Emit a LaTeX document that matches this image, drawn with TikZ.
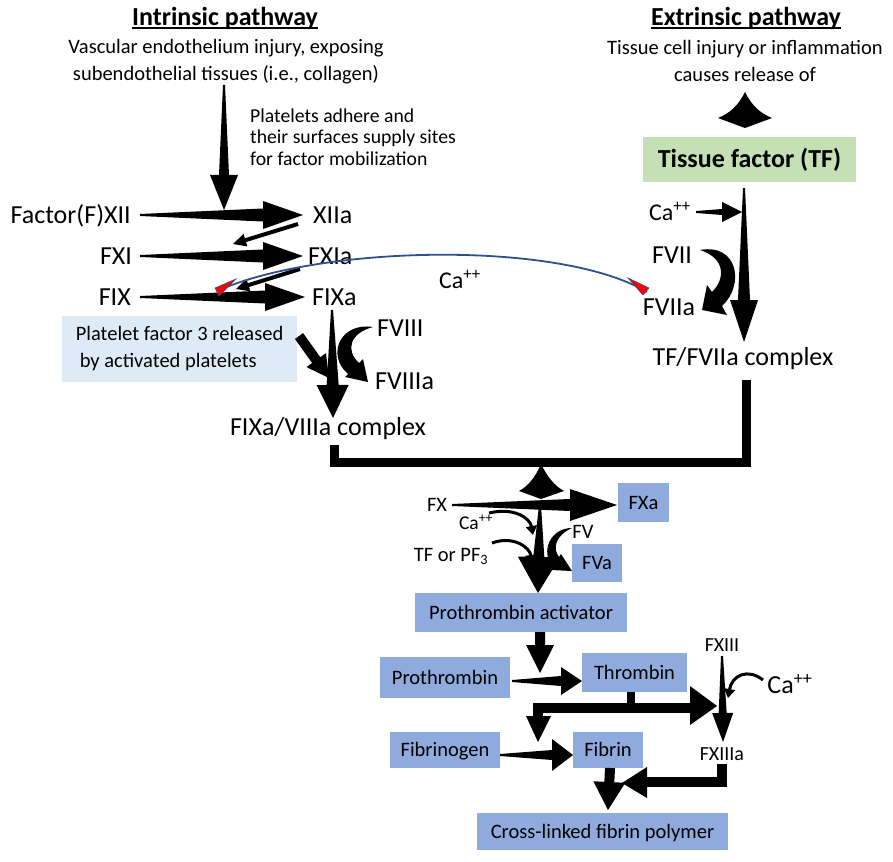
\documentclass[tikz,border=0pt]{standalone}
\usepackage{fontspec}
\setmainfont{Carlito}
\usetikzlibrary{calc,arrows.meta}
\definecolor{boxblue}{HTML}{8FAADC}
\definecolor{paleblue}{HTML}{DEEBF7}
\definecolor{palegreen}{HTML}{C5E0B4}
\definecolor{curveblue}{HTML}{2F4F8F}
% tapered block arrow: #1 from, #2 to, #3 start half-width, #4 shaft half-width at head, #5 head length, #6 head half-width
\newcommand\tarrow[6]{%
  \path (#1) coordinate (tA) (#2) coordinate (tB);
  \path ($(tB)!#5!(tA)$) coordinate (tC);
  \fill ($(tA)!#3!90:(tB)$) -- ($(tC)!#4!90:(tB)$) -- ($(tC)!#6!90:(tB)$) -- (tB)
     -- ($(tC)!#6!-90:(tB)$) -- ($(tC)!#4!-90:(tB)$) -- ($(tA)!#3!-90:(tB)$) -- cycle;}
\begin{document}
\begin{tikzpicture}[x=1pt,y=-1pt,
  lbl/.style={inner sep=0pt, font=\fontsize{26}{30}\selectfont, text height=16.7pt, text depth=0pt},
  midtxt/.style={inner sep=0pt, font=\fontsize{20.5}{27}\selectfont, text height=13.2pt, text depth=0pt},
  catxt/.style={inner sep=0pt, font=\fontsize{24}{28}\selectfont, text height=15.4pt, text depth=0pt},
  smalltxt/.style={inner sep=0pt, font=\fontsize{20}{24}\selectfont, text height=12.9pt, text depth=0pt},
  paratxt/.style={inner sep=0pt, font=\fontsize{20.5}{27}\selectfont, align=center},
  titletxt/.style={inner sep=0pt, font=\bfseries\fontsize{26}{30}\selectfont, text height=16.7pt, text depth=0pt},
  bbox/.style={fill=boxblue, inner sep=0pt, font=\fontsize{20.5}{27}\selectfont, text height=13.4pt, text depth=0pt},
  curvearr/.style={line width=3pt, -{Triangle[length=9pt,width=11pt]}},
  thickbar/.style={line width=9pt, line join=miter}]
\useasboundingbox (0,0) rectangle (893,861);

% ---------- titles and descriptions
\node[titletxt] (intr) at (225,17) {Intrinsic pathway};
\node[titletxt] (extr) at (746,17) {Extrinsic pathway};
\draw[line width=1.7pt] ([yshift=-2.5pt]intr.south west) -- ([yshift=-2.5pt]intr.south east);
\draw[line width=1.7pt] ([yshift=-2.5pt]extr.south west) -- ([yshift=-2.5pt]extr.south east);
\node[paratxt] (vasc) at (226,62) {Vascular endothelium injury, exposing\\subendothelial tissues (i.e., collagen)};
\node[paratxt] (tcell) at (745,61) {Tissue cell injury or inflammation\\causes release of};
\node[paratxt, align=left, anchor=west, font=\fontsize{19.7}{21.5}\selectfont] (plat) at (250,137) {Platelets adhere and\\their surfaces supply sites\\for factor mobilization};

% ---------- intrinsic labels
\node[lbl, anchor=east] (fxii) at (131,215) {Factor(F)XII};
\node[lbl, anchor=west] (xiia) at (313,215) {XIIa};
\node[lbl, anchor=east] (fxi) at (132,256) {FXI};
\node[lbl, anchor=west] (fxia) at (308,256) {FXIa};
\node[lbl, anchor=east] (fix) at (131,297) {FIX};
\node[lbl, anchor=west] (fixa) at (312,297) {FIXa};
\node[fill=paleblue, minimum width=235pt, minimum height=66pt, inner sep=0pt, align=left,
      font=\fontsize{20.5}{27}\selectfont] (pf3) at (179.5,349) {Platelet factor 3 released\\\hspace*{4pt}by activated platelets};
\node[lbl, anchor=west] (fviii) at (377,328) {FVIII};
\node[lbl, anchor=west] (fviiia) at (375,381) {FVIIIa};
\node[lbl] (fixcplx) at (328,427) {FIXa/VIIIa complex};
\node[catxt] (camid) at (460,281) {Ca\textsuperscript{++}};

% ---------- extrinsic labels
\node[titletxt, fill=palegreen, minimum width=213pt, minimum height=45pt] (tf) at (749.5,159.5) {Tissue factor (TF)};
\node[catxt] (caext) at (670,213) {Ca\textsuperscript{++}};
\node[lbl] (fvii) at (672,255) {FVII};
\node[lbl] (fviia) at (669,307) {FVIIa};
\node[lbl] (tfcplx) at (743,357) {TF/FVIIa complex};

% ---------- common pathway
\node[midtxt] (fx) at (437,505) {FX};
\node[bbox, minimum width=51pt, minimum height=39pt] (fxa) at (643.5,502.5) {FXa};
\node[midtxt, font=\fontsize{19.5}{22}\selectfont] (cabot) at (476,523) {Ca\textsuperscript{++}};
\node[midtxt] (tfpf) at (451,555) {TF or PF\textsubscript{3}};
\node[midtxt] (fv) at (583,532) {FV};
\node[bbox, minimum width=50pt, minimum height=38pt] (fva) at (597,563) {FVa};
\node[bbox, minimum width=212pt, minimum height=39pt] (pa) at (521,612.5) {Prothrombin activator};
\node[bbox, minimum width=130pt, minimum height=41pt] (prot) at (445,677.5) {Prothrombin};
\node[bbox, minimum width=105pt, minimum height=39pt] (thr) at (634.5,672.5) {Thrombin};
\node[smalltxt] (fxiii) at (722,645) {FXIII};
\node[lbl] (cabr) at (790,685) {Ca\textsuperscript{++}};
\node[smalltxt] (fxiiia) at (722,754.5) {FXIIIa};
\node[bbox, minimum width=110pt, minimum height=36pt] (fbg) at (445,750) {Fibrinogen};
\node[bbox, minimum width=70pt, minimum height=36pt] (fbn) at (608,750) {Fibrin};
\node[bbox, minimum width=251pt, minimum height=37pt] (poly) at (602.5,831.5) {Cross-linked fibrin polymer};

% ---------- arrow end points
\coordinate (a1s) at (140,215);  \coordinate (a1e) at (303,215);
\coordinate (a2s) at (140,256);  \coordinate (a2e) at (303,256);
\coordinate (a3s) at (140,297);  \coordinate (a3e) at (305,297);
\coordinate (b1s) at (298,224);  \coordinate (b1e) at (233,244);
\coordinate (b2s) at (300,269);  \coordinate (b2e) at (236,289);
\coordinate (d1s) at (224,85);   \coordinate (d1e) at (224,210);
\coordinate (d2s) at (332,310);  \coordinate (d2e) at (333,418);
\coordinate (pfs) at (299,336);  \coordinate (pfe) at (329,378);
\coordinate (ces) at (696,212);  \coordinate (cee) at (742,212);
\coordinate (tds) at (744,188);  \coordinate (tde) at (744,342);
\coordinate (fxs) at (452,505);  \coordinate (fxe) at (617,505);
\coordinate (pds) at (540,505);  \coordinate (pde) at (538,593);
\coordinate (tts) at (540,632);  \coordinate (tte) at (540,673);
\coordinate (pts) at (512,681);  \coordinate (pte) at (582,681);
\coordinate (x3s) at (722,656);  \coordinate (x3e) at (723,742);
\coordinate (fgs) at (500,755);  \coordinate (fge) at (573,755);
\coordinate (fns) at (610,768);  \coordinate (fne) at (608,810);

% ---------- intrinsic arrows
\tarrow{a1s}{a1e}{1pt}{6.5pt}{40pt}{14pt}
\tarrow{a2s}{a2e}{1pt}{6.5pt}{40pt}{14pt}
\tarrow{a3s}{a3e}{1pt}{6.5pt}{40pt}{14pt}
\tarrow{b1s}{b1e}{2pt}{2pt}{13pt}{6.5pt}
\tarrow{b2s}{b2e}{2pt}{2pt}{13pt}{6.5pt}
\tarrow{d1s}{d1e}{1pt}{5pt}{35pt}{14pt}
\tarrow{d2s}{d2e}{1pt}{6pt}{33pt}{16pt}
\tarrow{pfs}{pfe}{5pt}{5pt}{22pt}{12pt}
% FVIII -> FVIIIa crescent
\fill (373,327) .. controls (340,322) and (326,355) .. (348,374) -- (345,377) -- (368,382) -- (363,359)
   -- (359,363) .. controls (345,350) and (350,333) .. (373,327) -- cycle;

% ---------- extrinsic arrows
\fill (745,92) .. controls (752,106) and (760,113) .. (772,118) -- (745,128) -- (718,118)
   .. controls (730,113) and (738,106) .. (745,92) -- cycle;
\tarrow{ces}{cee}{1pt}{3pt}{20pt}{10pt}
\tarrow{tds}{tde}{1pt}{6pt}{42pt}{14pt}
% FVII -> FVIIa crescent
\fill (700,250) .. controls (738,243) and (745,285) .. (722,306) -- (727,315) -- (702,310) -- (707,285)
   -- (712,292) .. controls (726,278) and (725,258) .. (700,250) -- cycle;

% ---------- Ca++ link curve
\draw[curveblue, line width=1.8pt] (217,291) .. controls (320,245) and (560,240) .. (647,292);
\filldraw[fill=red, draw=curveblue, line width=0.6pt] (215,288) -- (236,279) -- (219,296) -- cycle;
\filldraw[fill=red, draw=curveblue, line width=0.6pt] (628,278) -- (649,288) -- (643,295) -- cycle;

% ---------- joining bracket
\coordinate (j1) at (334,445); \coordinate (j2) at (334,462.5);
\coordinate (j3) at (746.5,462.5); \coordinate (j4) at (746.5,380);
\draw[thickbar] (j1) -- (j2) -- (j3) -- (j4);
\fill (541,464) .. controls (548,478) and (555,486) .. (564,491) -- (541,499) -- (519,491)
   .. controls (528,486) and (535,478) .. (541,464) -- cycle;

% ---------- common pathway arrows
\tarrow{fxs}{fxe}{1pt}{6pt}{47pt}{16pt}
\tarrow{pds}{pde}{1pt}{5.5pt}{36pt}{21pt}
\draw[curvearr] (489,513) .. controls (514,507) and (530,518) .. (533,535);
\draw[curvearr] (492,543) .. controls (514,535) and (530,548) .. (532,564);
% FV -> FVa crescent
\fill (572,528) .. controls (550,528) and (540,552) .. (553,567) -- (551,570) -- (572,571) -- (561,554)
   -- (559,557) .. controls (552,548) and (556,535) .. (572,528) -- cycle;
\tarrow{tts}{tte}{5pt}{5pt}{28pt}{14pt}
\tarrow{pts}{pte}{1pt}{5pt}{21pt}{14pt}
% thrombin branches
\coordinate (t1) at (631,692); \coordinate (t2) at (631,708);
\draw[line width=8pt] (t1) -- (t2);
\coordinate (t3) at (538,718); \coordinate (t4) at (538,708); \coordinate (t5) at (691,708);
\draw[line width=10pt, line join=miter] (t3) -- (t4) -- (t5);
\fill (690,686) -- (717,706) -- (690,725) -- cycle;
\fill (526,716) -- (538,742) -- (551,716) -- cycle;
\tarrow{x3s}{x3e}{1pt}{4pt}{29pt}{10.5pt}
\draw[curvearr] (763,680) .. controls (748,668) and (732,675) .. (728,698);
\tarrow{fgs}{fge}{1pt}{5pt}{21pt}{16pt}
\tarrow{fns}{fne}{5pt}{5pt}{28pt}{16pt}
% FXIIIa bar
\coordinate (x1) at (722,764); \coordinate (x2) at (722,782); \coordinate (x3) at (646,782);
\draw[line width=10pt, line join=miter] (x1) -- (x2) -- (x3);
\fill (647,767) -- (622,783) -- (647,798) -- cycle;
\end{tikzpicture}
\end{document}
